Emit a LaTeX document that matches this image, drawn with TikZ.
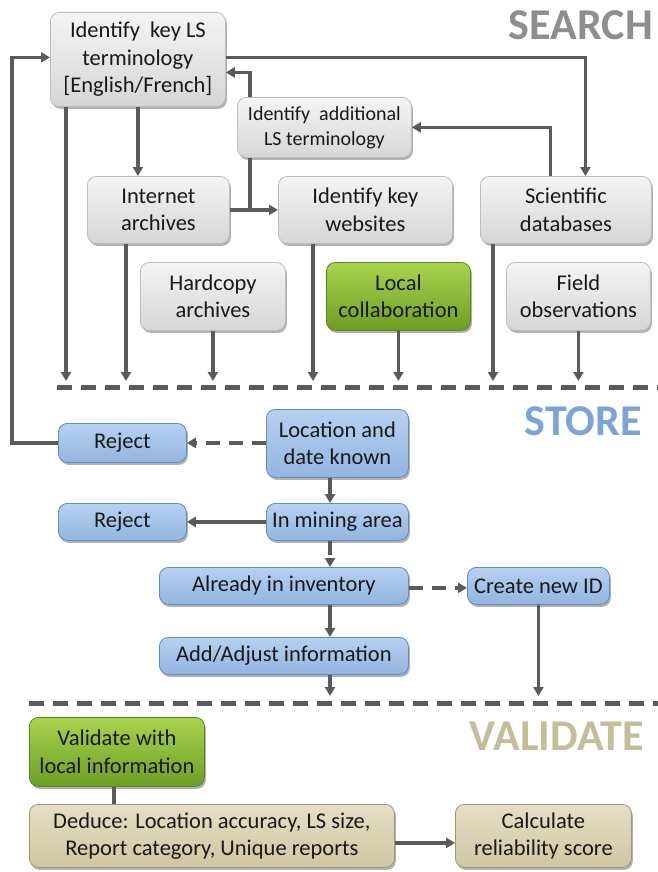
\documentclass[tikz,border=0pt]{standalone}
\usepackage{fontspec}
\setmainfont{Carlito}
\usetikzlibrary{arrows.meta,shadows,calc}
\definecolor{lineg}{HTML}{5A5A5A}
\definecolor{grayT}{HTML}{F4F4F4}
\definecolor{grayB}{HTML}{D6D6D6}
\definecolor{grayD}{HTML}{BDBDBD}
\definecolor{greenT}{HTML}{A9D34E}
\definecolor{greenB}{HTML}{6C9E24}
\definecolor{greenD}{HTML}{5A8420}
\definecolor{blueT}{HTML}{B6D0F0}
\definecolor{blueB}{HTML}{94B5E0}
\definecolor{blueD}{HTML}{5F8CC6}
\definecolor{tanT}{HTML}{E4DFC6}
\definecolor{tanB}{HTML}{CFC7A2}
\definecolor{tanD}{HTML}{9F9676}
\definecolor{hsearch}{HTML}{8E8E8E}
\definecolor{hstore}{HTML}{7BA5D9}
\definecolor{hvalid}{HTML}{C5BD97}
\begin{document}
\begin{tikzpicture}[x=1pt,y=-1pt,
  box/.style={rounded corners=9pt, line width=0.8pt, inner sep=0pt, anchor=north west,
    align=center, font=\fontsize{22.5}{27.5}\selectfont, text=black!90,
    drop shadow={shadow xshift=1.5pt,shadow yshift=-2.5pt,opacity=0.3,fill=black}},
  graybox/.style={box, draw=grayD, top color=grayT, bottom color=grayB},
  greenbox/.style={box, draw=greenD, top color=greenT, bottom color=greenB},
  bluebox/.style={box, draw=blueD, top color=blueT, bottom color=blueB},
  tanbox/.style={box, draw=tanD, top color=tanT, bottom color=tanB},
  conn/.style={line width=3.2pt, draw=lineg},
  arr/.style={conn, -{Triangle[length=9pt,width=10pt]}},
  darr/.style={arr, dash pattern=on 14pt off 9pt},
  sepline/.style={line width=5pt, draw=lineg, dash pattern=on 15pt off 9pt},
  heading/.style={anchor=base east, inner sep=0pt, font=\fontsize{44}{50}\selectfont\bfseries}
]
\useasboundingbox (0,0) rectangle (658,872);
\fill[white] (0,0) rectangle (658,872);

% headings
\node[heading, text=hsearch] (hs) at (653,40) {SEARCH};
\node[heading, text=hstore] (hst) at (642,435) {STORE};
\node[heading, text=hvalid] (hv) at (644,750) {VALIDATE};

% search boxes
\node[graybox, minimum width=175pt, minimum height=94pt] (T) at (50,12) {Identify\ \ key LS\\terminology\\{[}English/French{]}};
\node[graybox, minimum width=174pt, minimum height=60pt, font=\fontsize{20}{25}\selectfont] (A) at (237,97) {Identify\ \ additional\\LS terminology};
\node[graybox, minimum width=142pt, minimum height=67pt] (I) at (87,176) {Internet\\archives};
\node[graybox, minimum width=174pt, minimum height=67pt] (W) at (278,176) {Identify key\\websites};
\node[graybox, minimum width=171pt, minimum height=67pt] (S) at (480,176) {Scientific\\databases};
\node[graybox, minimum width=145pt, minimum height=68pt] (H) at (140,262) {Hardcopy\\archives};
\node[greenbox, minimum width=144pt, minimum height=68pt] (L) at (326,262) {Local\\collaboration};
\node[graybox, minimum width=144pt, minimum height=68pt] (F) at (506,262) {Field\\observations};

% store boxes
\node[bluebox, minimum width=128pt, minimum height=39pt] (R1) at (58,423) {Reject};
\node[bluebox, minimum width=142pt, minimum height=68pt] (LD) at (266,409) {Location and\\date known};
\node[bluebox, minimum width=128pt, minimum height=37pt] (R2) at (58,503) {Reject};
\node[bluebox, minimum width=142pt, minimum height=37pt] (M) at (266,503) {In mining area};
\node[bluebox, minimum width=249pt, minimum height=37pt] (AI) at (159,567) {Already in inventory};
\node[bluebox, minimum width=142pt, minimum height=37pt] (CN) at (467,567) {Create new ID};
\node[bluebox, minimum width=249pt, minimum height=37pt] (AA) at (159,637) {Add/Adjust information};

% validate boxes
\node[greenbox, minimum width=175pt, minimum height=69pt] (V) at (29,717) {Validate with\\local information};
\node[tanbox, minimum width=365pt, minimum height=63pt] (D) at (29,804) {Deduce: Location accuracy, LS size,\\Report category, Unique reports};
\node[tanbox, minimum width=176pt, minimum height=63pt] (C) at (455,804) {Calculate\\reliability score};

% separator lines
\coordinate (s1a) at (57,387);
\coordinate (s1b) at (658,387);
\coordinate (s2a) at (29,703);
\coordinate (s2b) at (658,703);
\draw[sepline] (s1a) -- (s1b);
\draw[sepline] (s2a) -- (s2b);
\coordinate (e1) at (0,381);
\coordinate (e2) at (0,696);

% search connectors
\draw[arr] (R1.west) -- ++(-46,0) coordinate (fb) |- ([yshift=2pt]T.west);
\draw[arr] ([yshift=2pt]T.east) -| ([xshift=19.5pt]S.north);
\coordinate (ax) at (250,0);
\draw[arr] (A.north -| ax) |- ([yshift=-13pt]T.east);
\draw[arr] ([xshift=-15.5pt]S.north) |- (A.east);
\draw[conn] (A.south -| ax) -- (I.east -| ax);
\draw[arr] (I.east) -- (W.west);
\draw[arr] (T.south) -- (T.south |- I.north);
\coordinate (x1) at (66,0);
\coordinate (x2) at (126,0);
\coordinate (x4) at (313,0);
\coordinate (x6) at (493,0);
\draw[arr] (T.south -| x1) -- (e1 -| x1);
\draw[arr] (I.south -| x2) -- (e1 -| x2);
\draw[arr] (H.south) -- (H.south |- e1);
\draw[arr] (W.south -| x4) -- (e1 -| x4);
\draw[arr] (L.south) -- (L.south |- e1);
\draw[arr] (S.south -| x6) -- (e1 -| x6);
\draw[arr] (F.south) -- (F.south |- e1);

% store connectors
\coordinate (xs) at (330,0);
\draw[darr] (LD.west |- R1.east) -- (R1.east);
\draw[arr] (LD.south -| xs) -- (M.north -| xs);
\draw[arr] (M.west) -- (R2.east);
\draw[darr] (M.south -| xs) -- (AI.north -| xs);
\draw[darr] ([yshift=-2pt]AI.east) -- ([yshift=-2pt]CN.west);
\draw[arr] (AI.south -| xs) -- (AA.north -| xs);
\draw[arr] (AA.south -| xs) -- (e2 -| xs);
\draw[arr] (CN.south) -- (CN.south |- e2);

% validate connectors
\coordinate (xv) at (114,0);
\draw[conn] (V.south -| xv) -- (D.north -| xv);
\draw[arr] ([yshift=-7pt]D.east) -- ([yshift=-7pt]C.west);
\end{tikzpicture}
\end{document}
